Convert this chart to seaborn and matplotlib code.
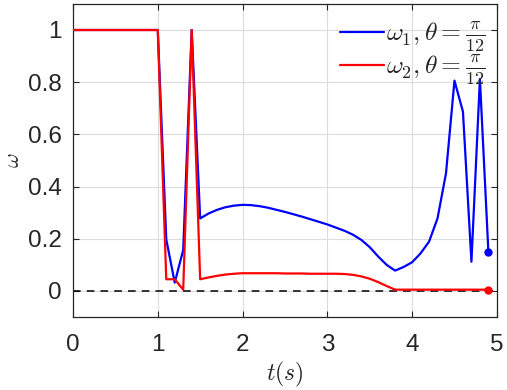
import numpy as np
import pandas as pd
import matplotlib
matplotlib.use("Agg")
import matplotlib.pyplot as plt
import seaborn as sns

# time grid (s) and the two responses
t = [0.0, 0.1, 0.2, 0.3, 0.4, 0.5, 0.6, 0.7, 0.8, 0.9,
     1.0, 1.1, 1.2, 1.3, 1.4, 1.5, 1.6, 1.7, 1.8, 1.9,
     2.0, 2.1, 2.2, 2.3, 2.4, 2.5, 2.6, 2.7, 2.8, 2.9,
     3.0, 3.1, 3.2, 3.3, 3.4, 3.5, 3.6, 3.7, 3.8, 3.9,
     4.0, 4.1, 4.2, 4.3, 4.4, 4.5, 4.6, 4.7, 4.8, 4.9]
omega1 = [1, 1, 1, 1, 1, 1, 1, 1, 1, 1,
          1, 0.198, 0.032, 0.157, 1, 0.278, 0.297, 0.311, 0.321, 0.327,
          0.330, 0.329, 0.325, 0.319, 0.311, 0.303, 0.294, 0.285, 0.275, 0.265,
          0.255, 0.243, 0.231, 0.216, 0.196, 0.168, 0.132, 0.100, 0.078, 0.092,
          0.110, 0.144, 0.189, 0.278, 0.451, 0.806, 0.687, 0.112, 0.812, 0.151]
omega2 = [1, 1, 1, 1, 1, 1, 1, 1, 1, 1,
          1, 0.045, 0.045, 0.005, 1, 0.045, 0.052, 0.058, 0.063, 0.066,
          0.068, 0.068, 0.068, 0.068, 0.068, 0.067, 0.067, 0.067, 0.066, 0.066,
          0.066, 0.066, 0.065, 0.062, 0.056, 0.047, 0.034, 0.019, 0.005, 0.005,
          0.005, 0.005, 0.005, 0.005, 0.005, 0.005, 0.005, 0.005, 0.005, 0.005]
labels = [r'$\omega_1, \theta=\frac{\pi}{12}$', r'$\omega_2, \theta=\frac{\pi}{12}$']
colors = ['#0000ff', '#ff0000']

df = pd.DataFrame({
    't': t + t,
    'omega': omega1 + omega2,
    'series': [labels[0]] * len(t) + [labels[1]] * len(t),
})

sns.set_style("ticks")
plt.rcParams['font.family'] = ['Liberation Sans', 'DejaVu Sans']
plt.rcParams['mathtext.fontset'] = 'cm'

fig = plt.figure(figsize=(5.07, 3.9), dpi=100)
ax = fig.add_axes([0.144, 0.187, 0.836, 0.803])

ax.axhline(0, color='black', linestyle=(0, (5, 4)), linewidth=1.1, zorder=1)
sns.lineplot(data=df, x='t', y='omega', hue='series', palette=colors,
             linewidth=1.6, ax=ax, zorder=3)

# end markers
for vals, c in zip([omega1, omega2], colors):
    ax.plot(t[-1], vals[-1], 'o', color=c, markersize=5, zorder=4)

ax.set_xlim(0, 5)
ax.set_ylim(-0.1, 1.1)
ax.set_xticks([0, 1, 2, 3, 4, 5])
ax.set_yticks([0, 0.2, 0.4, 0.6, 0.8, 1])
ax.set_yticklabels(['0', '0.2', '0.4', '0.6', '0.8', '1'])
ax.grid(True, color='#dcdcdc', linewidth=0.8)
ax.set_axisbelow(True)
ax.tick_params(direction='in', top=True, right=True, labelsize=17.5,
               length=4, width=0.8, colors='#262626')
ax.tick_params(axis='x', pad=12)
ax.tick_params(axis='y', pad=8)
for s in ax.spines.values():
    s.set_linewidth(0.9)
    s.set_color('#262626')

ax.set_xlabel(r'$t(s)$', fontsize=17, labelpad=3)
ax.set_ylabel(r'$\omega$', fontsize=16, labelpad=3)

leg = ax.legend(loc='upper right', frameon=False, fontsize=18.5,
                handlelength=1.7, handletextpad=0.1, labelspacing=0.0,
                borderaxespad=0.0, borderpad=0.2, bbox_to_anchor=(0.985, 0.965))

fig.savefig('out.png', dpi=100)
